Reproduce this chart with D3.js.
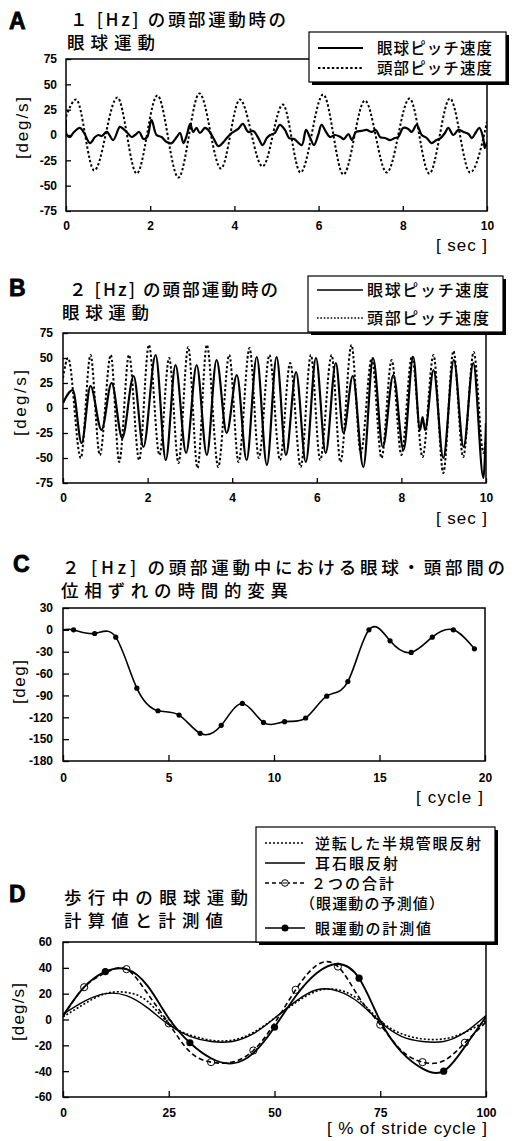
<!DOCTYPE html>
<html><head><meta charset="utf-8">
<script src="https://cdn.jsdelivr.net/npm/d3@7"></script>
<style>body{margin:0;background:#fff}svg{display:block}</style>
</head><body>
<svg id="c" width="517" height="1141"></svg>
<script>
// ---------------- DATA ----------------
// Panel A : 1 Hz head motion (time [s], velocity [deg/s])
const aHeadT = [0, 0.24, 0.67, 1.22, 1.68, 2.17, 2.67, 3.17, 3.68, 4.13, 4.67, 5.15, 5.57, 6.11, 6.59, 7.10, 7.62, 8.16, 8.63, 9.12, 9.60, 10];
const aHeadV = [18, 35, -35, 37, -38, 39, -42, 41, -33, 35, -31, 30, -37, 40, -39, 34, -37, 36, -38, 36, -37, 13];
const aEyeT = [0, 0.02, 0.10, 0.17, 0.33, 0.43, 0.57, 0.69, 0.77, 0.85, 0.97, 1.12, 1.28, 1.36, 1.44, 1.56, 1.64, 1.74, 1.84, 1.93, 2.03, 2.15, 2.27, 2.39, 2.51, 2.63, 2.71, 2.79, 2.87, 2.95, 3.02, 3.10, 3.18, 3.30, 3.38, 3.50, 3.62, 3.74, 3.82, 3.94, 4.09, 4.20, 4.33, 4.45, 4.57, 4.67, 4.77, 4.85, 4.96, 5.08, 5.20, 5.30, 5.42, 5.60, 5.70, 5.80, 5.89, 5.99, 6.07, 6.19, 6.27, 6.39, 6.52, 6.60, 6.71, 6.79, 6.89, 7.02, 7.14, 7.26, 7.36, 7.46, 7.58, 7.70, 7.81, 7.89, 8.01, 8.13, 8.21, 8.33, 8.45, 8.57, 8.68, 8.80, 8.90, 9.00, 9.08, 9.20, 9.32, 9.44, 9.56, 9.64, 9.74, 9.82, 9.91, 9.95, 10];
const aEyeV = [15, 0, -2, 2, 7, 2, -8, -2, 0, -1, 3, -5, 8, 6, 3, -2, 0, 3, -4, -2, 15, 0, -2, -7, -8, -2, 2, -8, 0, 11, 3, 7, 2, 7, 5, -3, -11, -7, -3, 2, 6, 11, 3, 4, -3, -10, -3, 0, 2, 10, 5, -3, -4, -10, 5, -3, -10, 0, 10, 2, -2, 0, -2, -4, 1, -5, 3, 4, 5, 3, 5, -2, -3, -5, -3, -2, 7, 6, 3, 10, 0, -3, -8, -5, -3, 2, 7, 0, 5, 3, 1, -3, 3, 7, -3, -13, -7];

// Panel B : 2 Hz head motion
const bHeadT = [0, 0.12, 0.42, 0.65, 0.87, 1.13, 1.33, 1.56, 1.80, 2.03, 2.28, 2.51, 2.73, 2.96, 3.18, 3.40, 3.67, 3.93, 4.15, 4.41, 4.63, 4.88, 5.13, 5.37, 5.62, 5.86, 6.08, 6.35, 6.56, 6.82, 7.04, 7.30, 7.53, 7.77, 8.00, 8.25, 8.50, 8.76, 8.99, 9.23, 9.46, 9.71, 9.94, 10];
const bHeadV = [30, 50, -50, 53, -47, 53, -54, 53, -52, 63, -47, 50, -55, 61, -60, 63, -59, 53, -54, 60, -50, 53, -52, 45, -59, 53, -52, 53, -54, 63, -45, 50, -50, 48, -47, 52, -49, 53, -65, 57, -49, 56, -45, -30];
const bEyeT = [0, 0.23, 0.44, 0.65, 0.91, 1.15, 1.40, 1.67, 1.90, 2.19, 2.43, 2.66, 2.91, 3.16, 3.40, 3.63, 3.87, 4.11, 4.34, 4.58, 4.82, 5.05, 5.27, 5.51, 5.74, 5.98, 6.21, 6.45, 6.63, 6.85, 7.10, 7.33, 7.56, 7.81, 8.05, 8.28, 8.44, 8.50, 8.56, 8.76, 8.99, 9.24, 9.47, 9.70, 9.94, 10];
const bEyeV = [5, 18, -35, 22, -22, 25, -30, 32, -39, 53, -52, 43, -45, 43, -47, 48, -25, 33, -52, 51, -57, 51, -47, 36, -54, 50, -45, 45, -25, 32, -59, 50, -39, 33, -42, 51, -22, -9, -22, 38, -50, 48, -39, 45, -70, -15];

// Panel C : phase shift per cycle
const cCycle = [0, 0.5, 1.5, 2.5, 3.5, 4.5, 5.5, 6.5, 7.5, 8.5, 9.5, 10.5, 11.5, 12.5, 13.5, 14.5, 15.5, 16.5, 17.5, 18.5, 19.5];
const cPhase = [0, 0, -5, -10, -80, -111, -117, -142, -131, -101, -127, -126, -121, -91, -71, 0, -15, -31, -10, 0, -26];

// Panel D : % of stride cycle
const dPct      = [0, 5, 10, 15, 20, 25, 30, 35, 40, 45, 50, 55, 60, 65, 70, 75, 80, 85, 90, 95, 100];
const dScvor    = [2, 12, 20, 21, 14, -3, -12, -16, -16, -10, 1, 13, 22, 23, 15, -1, -11, -15, -15, -10, -1];
const dOvor     = [4, 14, 20, 18.5, 9, -4, -13, -17, -17, -11, 1, 14, 23, 22, 13, -2, -13, -17, -17, -10, 3];
const dSum      = [2, 25, 36, 39, 20, -3, -25, -33, -33, -24, -3, 23, 42, 41, 17, -4, -24, -33, -32, -18, -2];
const dMeasured = [3, 25, 37, 39, 26, 1, -18, -30, -34, -26, -6, 18, 36, 43, 32, -1, -25, -38, -40, -21, 2];
const dSumMarks  = [5, 15, 25, 35, 45, 55, 65, 75, 85, 95];
const dMeasMarks = [10, 30, 50, 70, 90];

// Ticks
const abXTicks = [0, 2, 4, 6, 8, 10];
const abYTicks = [-75, -50, -25, 0, 25, 50, 75];
const cXTicks = [0, 5, 10, 15, 20];
const cYTicks = [-180, -150, -120, -90, -60, -30, 0, 30];
const dXTicks = [0, 25, 50, 75, 100];
const dYTicks = [-60, -40, -20, 0, 20, 40, 60];

// Texts
const legendAB = ["眼球ピッチ速度", "頭部ピッチ速度"];
const legendD = ["逆転した半規管眼反射", "耳石眼反射", "２つの合計", "（眼運動の予測値）", "眼運動の計測値"];

// ---------------- DRAW ----------------
const svg = d3.select("#c");
const FNUM = "'Liberation Sans', Arial, Helvetica, sans-serif";
const FJP = "'Noto Sans CJK JP', 'Noto Sans CJK SC', sans-serif";
const DOT = "2.4,2.2", DASH = "5,3";
const TS = 17.5; // title font size

function zip(a, b) { return a.map((v, i) => [v, b[i]]); }

function panel(cfg) {
  const x = d3.scaleLinear().domain(cfg.xDomain).range([cfg.left, cfg.right]);
  const y = d3.scaleLinear().domain(cfg.yDomain).range([cfg.bottom, cfg.top]);
  const g = svg.append("g");
  const fmt = d => String(d);
  const xa = g.append("g").attr("transform", `translate(0,${cfg.bottom})`)
    .call(d3.axisBottom(x).tickValues(cfg.xTicks).tickSize(-cfg.tick).tickPadding(cfg.xPad).tickFormat(fmt));
  const ya = g.append("g").attr("transform", `translate(${cfg.left},0)`)
    .call(d3.axisLeft(y).tickValues(cfg.yTicks).tickSize(-cfg.tick).tickPadding(cfg.yPad).tickFormat(fmt));
  [xa, ya].forEach(a => {
    a.select(".domain").remove();
    a.attr("font-family", FNUM).attr("font-size", 12).attr("font-weight", "bold");
    a.selectAll("line").attr("stroke", "#000").attr("stroke-width", 1.3);
    a.selectAll("text").attr("fill", "#000");
  });
  const cid = "clip" + cfg.name;
  svg.append("clipPath").attr("id", cid).append("rect")
    .attr("x", cfg.left).attr("y", cfg.top).attr("width", cfg.right - cfg.left).attr("height", cfg.bottom - cfg.top);
  const plot = g.append("g").attr("clip-path", `url(#${cid})`);
  g.append("rect").attr("x", cfg.left).attr("y", cfg.top)
    .attr("width", cfg.right - cfg.left).attr("height", cfg.bottom - cfg.top)
    .attr("fill", "none").attr("stroke", "#000").attr("stroke-width", 1.5);
  return { x, y, g, plot };
}

function addText(t, x, y, opts) {
  const el = svg.append("text").attr("x", x).attr("y", y).text(t)
    .attr("font-family", opts.font || FJP).attr("font-size", opts.size || TS)
    .attr("font-weight", opts.weight || 500).attr("fill", "#000");
  if (opts.len) el.attr("textLength", opts.len).attr("lengthAdjust", opts.adjust || "spacing");
  if (opts.anchor) el.attr("text-anchor", opts.anchor);
  if (opts.rotate) el.attr("transform", `rotate(-90,${x},${y})`);
  return el;
}

function letter(t, x, y) {
  addText(t, x, y, { font: FNUM, size: 23, weight: "bold" }).attr("stroke", "#000").attr("stroke-width", 0.8);
}

function legendBox(x, y, w, h) {
  svg.append("rect").attr("x", x + 3).attr("y", y + 3).attr("width", w).attr("height", h).attr("fill", "#000");
  svg.append("rect").attr("x", x).attr("y", y).attr("width", w).attr("height", h)
    .attr("fill", "#fff").attr("stroke", "#000").attr("stroke-width", 1.2);
}

const axTitle = { font: FNUM, size: 17, weight: "normal" };

// ---- Panel A ----
{
  const p = panel({ name: "A", xDomain: [0, 10], yDomain: [-75, 75], left: 66, right: 487, top: 59, bottom: 211,
    xTicks: abXTicks, yTicks: abYTicks, tick: 5, xPad: 10, yPad: 9 });
  const line = d3.line().x(d => p.x(d[0])).y(d => p.y(d[1]));
  p.plot.append("path").datum(zip(aHeadT, aHeadV)).attr("d", line.curve(d3.curveMonotoneX))
    .attr("fill", "none").attr("stroke", "#000").attr("stroke-width", 2).attr("stroke-dasharray", DOT);
  p.plot.append("path").datum(zip(aEyeT, aEyeV)).attr("d", line.curve(d3.curveCatmullRom))
    .attr("fill", "none").attr("stroke", "#000").attr("stroke-width", 2.2);
  legendBox(309, 32, 197, 50);
  svg.append("line").attr("x1", 318).attr("x2", 363).attr("y1", 48).attr("y2", 48).attr("stroke", "#000").attr("stroke-width", 1.8);
  svg.append("line").attr("x1", 318).attr("x2", 363).attr("y1", 68).attr("y2", 68).attr("stroke", "#000").attr("stroke-width", 1.8).attr("stroke-dasharray", DOT);
  addText(legendAB[0], 377, 54, { size: 15.5, len: 115 });
  addText(legendAB[1], 377, 74, { size: 15.5, len: 115 });
  letter("A", 9, 28.5);
  addText("１ [Hz] の頭部運動時の", 70, 26, { len: 216 });
  addText("眼球運動", 67, 49, { len: 88 });
  addText("[deg/s]", 28, 128, Object.assign({ anchor: "middle", rotate: true, len: 62 }, axTitle));
  addText("[ sec ]", 487, 251, Object.assign({ anchor: "end", len: 51 }, axTitle));
}

// ---- Panel B ----
{
  const p = panel({ name: "B", xDomain: [0, 10], yDomain: [-75, 75], left: 63, right: 486, top: 333, bottom: 483,
    xTicks: abXTicks, yTicks: abYTicks, tick: 5, xPad: 10, yPad: 10 });
  const line = d3.line().x(d => p.x(d[0])).y(d => p.y(d[1])).curve(d3.curveMonotoneX);
  p.plot.append("path").datum(zip(bHeadT, bHeadV)).attr("d", line)
    .attr("fill", "none").attr("stroke", "#000").attr("stroke-width", 2).attr("stroke-dasharray", DOT);
  p.plot.append("path").datum(zip(bEyeT, bEyeV)).attr("d", line)
    .attr("fill", "none").attr("stroke", "#000").attr("stroke-width", 2.2);
  legendBox(308, 276, 195, 56);
  svg.append("line").attr("x1", 317).attr("x2", 363).attr("y1", 290).attr("y2", 290).attr("stroke", "#000").attr("stroke-width", 1.3);
  svg.append("line").attr("x1", 317).attr("x2", 363).attr("y1", 318).attr("y2", 318).attr("stroke", "#000").attr("stroke-width", 1.5).attr("stroke-dasharray", "1.6,1.8");
  addText(legendAB[0], 367, 296, { size: 16, len: 122 });
  addText(legendAB[1], 367, 324, { size: 16, len: 122 });
  letter("B", 9, 296);
  addText("２ [Hz] の頭部運動時の", 69, 295.5, { len: 209 });
  addText("眼球運動", 62, 318.5, { len: 87 });
  addText("[deg/s]", 26, 403, Object.assign({ anchor: "middle", rotate: true, len: 66 }, axTitle));
  addText("[ sec ]", 487, 524, Object.assign({ anchor: "end", len: 51 }, axTitle));
}

// ---- Panel C ----
{
  const p = panel({ name: "C", xDomain: [0, 20], yDomain: [-180, 30], left: 63, right: 485, top: 608, bottom: 761,
    xTicks: cXTicks, yTicks: cYTicks, tick: 6, xPad: 12, yPad: 10 });
  const pts = zip(cCycle, cPhase);
  const line = d3.line().x(d => p.x(d[0])).y(d => p.y(d[1])).curve(d3.curveNatural);
  p.plot.append("path").datum(pts).attr("d", line)
    .attr("fill", "none").attr("stroke", "#000").attr("stroke-width", 1.6);
  p.g.selectAll(".cm").data(pts.filter(d => d[0] > 0)).join("circle")
    .attr("cx", d => p.x(d[0])).attr("cy", d => p.y(d[1])).attr("r", 2.6).attr("fill", "#000");
  letter("C", 13, 572);
  addText("２ [Hz] の頭部運動中における眼球・頭部間の", 62, 574, { len: 443 });
  addText("位相ずれの時間的変異", 61, 596.5, { len: 227 });
  addText("[deg]", 25, 682, Object.assign({ anchor: "middle", rotate: true, len: 44 }, axTitle));
  addText("[ cycle ]", 483, 803, Object.assign({ anchor: "end", len: 67 }, axTitle));
}

// ---- Panel D ----
{
  const p = panel({ name: "D", xDomain: [0, 100], yDomain: [-60, 60], left: 63, right: 486, top: 942, bottom: 1097,
    xTicks: dXTicks, yTicks: dYTicks, tick: 6, xPad: 11, yPad: 11 });
  const line = d3.line().x(d => p.x(d[0])).y(d => p.y(d[1])).curve(d3.curveNatural);
  p.plot.append("path").datum(zip(dPct, dScvor)).attr("d", line)
    .attr("fill", "none").attr("stroke", "#000").attr("stroke-width", 1.6).attr("stroke-dasharray", "2,2");
  p.plot.append("path").datum(zip(dPct, dOvor)).attr("d", line)
    .attr("fill", "none").attr("stroke", "#000").attr("stroke-width", 1.4);
  p.plot.append("path").datum(zip(dPct, dSum)).attr("d", line)
    .attr("fill", "none").attr("stroke", "#000").attr("stroke-width", 1.6).attr("stroke-dasharray", DASH);
  p.plot.append("path").datum(zip(dPct, dMeasured)).attr("d", line)
    .attr("fill", "none").attr("stroke", "#000").attr("stroke-width", 1.9);
  const sumPts = zip(dPct, dSum).filter(d => dSumMarks.includes(d[0]));
  const measPts = zip(dPct, dMeasured).filter(d => dMeasMarks.includes(d[0]));
  p.g.selectAll(".so").data(sumPts).join("circle")
    .attr("cx", d => p.x(d[0])).attr("cy", d => p.y(d[1])).attr("r", 3.6)
    .attr("fill", "none").attr("stroke", "#000").attr("stroke-width", 1);
  p.g.selectAll(".mf").data(measPts).join("circle")
    .attr("cx", d => p.x(d[0])).attr("cy", d => p.y(d[1])).attr("r", 3.6).attr("fill", "#000");

  legendBox(256, 827, 239, 115);
  const lx1 = 265, lx2 = 305, mid = 285;
  svg.append("line").attr("x1", lx1).attr("x2", lx2).attr("y1", 843).attr("y2", 843).attr("stroke", "#000").attr("stroke-width", 1.5).attr("stroke-dasharray", "2,2");
  svg.append("line").attr("x1", lx1).attr("x2", lx2).attr("y1", 863).attr("y2", 863).attr("stroke", "#000").attr("stroke-width", 1.4);
  svg.append("line").attr("x1", lx1).attr("x2", lx2).attr("y1", 883).attr("y2", 883).attr("stroke", "#000").attr("stroke-width", 1.5).attr("stroke-dasharray", "4,3");
  svg.append("circle").attr("cx", mid).attr("cy", 883).attr("r", 3.3).attr("fill", "#fff").attr("stroke", "#000").attr("stroke-width", 1);
  svg.append("line").attr("x1", mid - 2).attr("x2", mid + 2).attr("y1", 883).attr("y2", 883).attr("stroke", "#000").attr("stroke-width", 1);
  svg.append("line").attr("x1", lx1).attr("x2", lx2).attr("y1", 928).attr("y2", 928).attr("stroke", "#000").attr("stroke-width", 1.5);
  svg.append("circle").attr("cx", mid).attr("cy", 928).attr("r", 3.5).attr("fill", "#000");
  addText(legendD[0], 315, 848.5, { size: 15, len: 166 });
  addText(legendD[1], 315, 868.5, { size: 15, len: 83 });
  addText(legendD[2], 311, 888.5, { size: 15, len: 83 });
  addText(legendD[3], 300, 908.5, { size: 15, len: 144 });
  addText(legendD[4], 315, 933.5, { size: 15, len: 116 });

  letter("D", 9, 902);
  addText("歩行中の眼球運動", 64, 904, { len: 184 });
  addText("計算値と計測値", 64, 927, { len: 159 });
  addText("[deg/s]", 24, 1012, Object.assign({ anchor: "middle", rotate: true, len: 58 }, axTitle));
  addText("[ % of stride cycle ]", 487, 1134, Object.assign({ anchor: "end", len: 160 }, axTitle));
}
</script>
</body></html>
